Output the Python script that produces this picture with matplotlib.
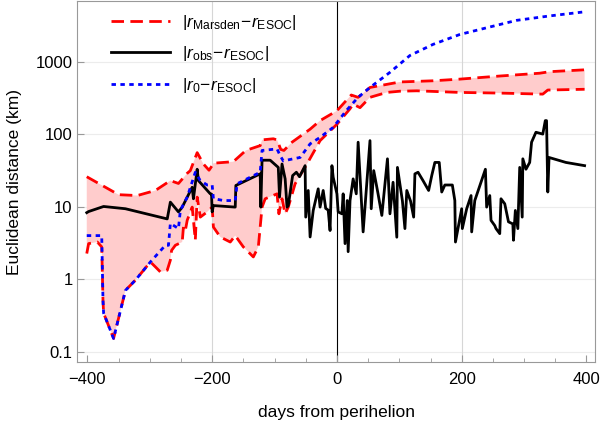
import matplotlib
matplotlib.use('Agg')
import matplotlib.pyplot as plt
from matplotlib.ticker import FixedLocator, MultipleLocator

plt.rcParams['font.family'] = ['Liberation Sans', 'DejaVu Sans']
plt.rcParams['mathtext.fontset'] = 'custom'
plt.rcParams['mathtext.rm'] = 'Liberation Sans'
plt.rcParams['mathtext.it'] = 'Liberation Sans:italic'

# |r_Marsden - r_ESOC| upper and lower envelope
up_days = [-401, -350, -320, -291, -267, -254, -240, -235, -224, -214, -205, -200, -198, -166,
           -146, -123, -120, -102, -96, -90, -85, -72, -43, -27, 0, 23, 34, 53, 101, 154,
           197, 261, 325, 341, 397]
up_vals = [26, 14.7, 14.3, 16.8, 23, 21, 29, 31.6, 56, 39, 32, 37, 40, 42,
           60, 70, 84, 87, 84, 62, 60, 78, 118, 155, 212, 350, 325, 445, 530, 550,
           580, 640, 700, 735, 780]

lo_days = [-401, -398, -384, -377, -375, -374, -358, -339, -323, -299, -291, -283, -272, -267,
           -265, -259, -248, -246, -243, -240, -232, -227, -224, -219, -208, -200, -198, -187,
           -171, -163, -150, -134, -126, -120, -115, -96, -93, -88, -83, -78, -67, -48, -27,
           0, 21, 26, 37, 53, 80, 101, 128, 197, 261, 330, 338, 397]
lo_vals = [2.26, 3.1, 3.26, 2.79, 0.51, 0.34, 0.152, 0.7, 0.97, 1.73, 1.48, 1.26, 1.33, 1.83,
           2.5, 2.94, 3.26, 5.3, 4.7, 6.5, 9.9, 3.45, 13.6, 7.2, 8.5, 9.9, 5.25, 3.83,
           3.26, 4.0, 2.79, 2.03, 2.79, 9.9, 12.9, 15.1, 8.0, 12.9, 8.0, 9.9, 20.8, 39, 82,
           138, 226, 262, 234, 325, 380, 395, 400, 380, 372, 360, 410, 420]

# |r_obs - r_ESOC|
obs_days = [-401, -398, -374, -339, -272, -267, -254, -248, -232, -230, -224, -222, -203, -201,
            -200, -198, -163, -162, -123, -122, -120, -107, -94, -92, -88, -83, -80, -78, -71,
            -65, -60, -51, -50, -46, -43, -38, -30, -27, -22, -18, -14, -11, -8, -6, 0, 2, 8,
            10, 13, 16.5, 18, 21, 26, 31, 34, 42, 53, 55, 59, 66, 72, 81, 85, 90, 96, 97, 105,
            109, 112, 118, 123, 125, 130, 138, 147, 152, 157, 164, 168, 173, 185, 189, 190,
            200, 201, 208, 215, 216, 221, 238, 240, 245, 247, 253, 255, 261, 263, 269, 275,
            282, 283, 286, 290, 293, 297, 298, 303, 309, 312, 319, 330, 334, 336, 338, 340,
            367, 397]
obs_vals = [8.3, 8.6, 10.1, 9.4, 6.8, 11.6, 8.5, 9.9, 18.6, 12.9, 33, 23, 15.1, 15,
            8.5, 10.4, 9.9, 19.7, 28.5, 9.9, 44, 44, 35, 13.6, 39, 24.3, 9.9, 10.4, 27,
            30, 26, 37, 7.2, 16.8, 3.83, 8.9, 17.7, 9.9, 16.8, 9.5, 9, 4.7, 37, 25.6, 15.1, 8.5, 8.0,
            15.1, 3.1, 12.2, 2.4, 12.2, 24.3, 15.1, 78, 4.5, 82, 9.4, 31.6, 15, 7.6, 46, 8.0, 21.8, 3.8, 35, 12,
            5.0, 16.8, 12, 7.2, 28.5, 30, 23, 16.8, 27, 41, 41, 16, 20, 20, 12.2, 3.26,
            9.4, 5.0, 9.4, 14.3, 4.5, 12.2, 33, 9.9, 14.3, 6.5, 5.5, 5.0, 4.26, 12.9, 11, 6.2,
            5.8, 3.45, 8.9, 5.0, 35, 7.2, 46, 33, 41, 78, 107, 101, 155, 155, 16, 48,
            41, 37]

# |r_0 - r_ESOC|
r0_days = [-401, -377, -375, -374, -358, -339, -323, -299, -275, -270, -267, -254, -251, -240,
           -227, -219, -208, -200, -198, -182, -163, -160, -123, -120, -96, -91, -86, -70,
           -59, -43, -27, -6, 15, 34, 53, 85, 117, 154, 197, 240, 288, 341, 394]
r0_vals = [4.0, 4.0, 0.51, 0.34, 0.152, 0.7, 0.97, 1.73, 2.94, 2.94, 5.9, 5.0, 8.9, 13.6,
           30, 23, 20, 20, 13, 12.2, 12.2, 20.8, 30, 60, 63, 51, 43, 46,
           48, 74, 91, 125, 213, 325, 445, 720, 1230, 1750, 2400, 2970, 3760, 4330, 4900]

fig = plt.figure(figsize=(6, 4.23), dpi=100)
ax = fig.add_axes([0.129, 0.144, 0.863, 0.853])
ax.set_yscale('log')

# grid lines and perihelion line
for v in [0.1, 1, 10, 100, 1000]:
    ax.axhline(v, color='#ececec', lw=0.8, zorder=0)
for d in [-200, 200]:
    ax.axvline(d, color='#d6d6d6', lw=0.8, zorder=0)
ax.axvline(0, color='black', lw=0.8, zorder=1)

# shaded band between the Marsden envelopes
ax.fill(up_days + lo_days[::-1], up_vals + lo_vals[::-1], color='#ffcccc', lw=0, zorder=1)

l1, = ax.plot(up_days, up_vals, color='red', lw=2.0, dashes=(4.5, 2.3), zorder=3)
ax.plot(lo_days, lo_vals, color='red', lw=2.0, dashes=(4.5, 2.3), zorder=3)
l2, = ax.plot(obs_days, obs_vals, color='black', lw=2.0, zorder=4)
l3, = ax.plot(r0_days, r0_vals, color='blue', lw=2.0, dashes=(1.6, 1.6), zorder=5)

ax.set_xlim(-416, 414)
ax.set_ylim(0.0716, 6900)

ax.xaxis.set_major_locator(FixedLocator([-400, -200, 0, 200, 400]))
ax.xaxis.set_minor_locator(MultipleLocator(50))
ax.yaxis.set_major_locator(FixedLocator([0.1, 1, 10, 100, 1000]))
ax.yaxis.set_minor_locator(FixedLocator([]))
ax.set_yticklabels(['0.1', '1', '10', '100', '1000'])
ax.tick_params(which='both', direction='in', color='#999999', labelsize=12)
ax.tick_params(axis='x', pad=7)
ax.tick_params(which='major', length=5)
ax.tick_params(which='minor', length=3)
for s in ax.spines.values():
    s.set_color('#999999')

ax.set_xlabel('days from perihelion', fontsize=12.5, labelpad=13)
ax.set_ylabel('Euclidean distance (km)', fontsize=12.5, labelpad=10)

leg = ax.legend([l1, l2, l3],
                [r'$|r_{\mathrm{Marsden}}\!-\!r_{\mathrm{ESOC}}|$',
                 r'$|r_{\mathrm{obs}}\!-\!r_{\mathrm{ESOC}}|$',
                 r'$|r_{0}\!-\!r_{\mathrm{ESOC}}|$'],
                loc='upper left', bbox_to_anchor=(0.035, 1.01), frameon=False,
                fontsize=12.5, handlelength=3.4, handletextpad=0.7, labelspacing=0.7)

fig.savefig('out.png', dpi=100)
